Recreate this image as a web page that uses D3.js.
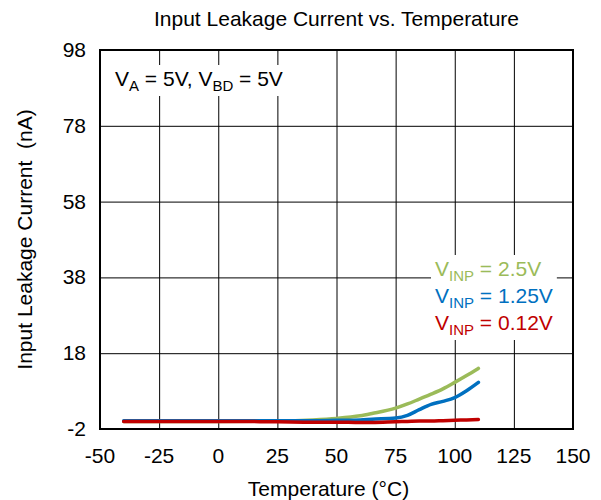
<!DOCTYPE html>
<html>
<head>
<meta charset="utf-8">
<script src="https://cdn.jsdelivr.net/npm/d3@7"></script>
<style>
  body { margin: 0; background: #fff; }
  text { font-family: Arial, "Liberation Sans", sans-serif; fill: #000; }
</style>
</head>
<body>
<svg id="chart" width="601" height="500"></svg>
<script>
// data
const xTicks = [-50, -25, 0, 25, 50, 75, 100, 125, 150];
const yTicks = [-2, 18, 38, 58, 78, 98];

const temp = [-40, -25, 0, 25, 40, 50, 60, 65, 75, 80, 85, 90, 95, 100, 105, 110];
const vinp250 = [0, 0, 0, 0.1, 0.4, 0.8, 1.5, 2.1, 3.5, 4.6, 5.9, 7.2, 8.6, 10.3, 12.1, 14.0];
const vinp125 = [0.2, 0.2, 0.2, 0.2, 0.2, 0.3, 0.4, 0.6, 0.9, 1.6, 3.1, 4.5, 5.3, 6.3, 8.1, 10.3];
const vinp012 = [0, 0, 0, -0.1, -0.2, -0.2, -0.3, -0.3, -0.1, 0, 0.1, 0.1, 0.2, 0.3, 0.4, 0.5];

const series = [
  {name: "2.5V", values: vinp250, col: "#9bbb59"},
  {name: "1.25V", values: vinp125, col: "#0070c0"},
  {name: "0.12V", values: vinp012, col: "#c00000"}
];

const FS = 21, SUB = 15;

////////////////////////////////////////////
// SCALES
////////////////////////////////////////////

let svg = d3.select("#chart");
let m = {left: 100, right: 573, top: 50, bottom: 429};

let x = d3.scaleLinear().domain([-50, 150]).range([m.left, m.right]);
let y = d3.scaleLinear().domain([-2, 98]).range([m.bottom, m.top]);

// grid
svg.append("g")
  .attr("transform", `translate(0,${m.bottom})`)
  .call(d3.axisBottom(x).tickValues(xTicks).tickSize(-(m.bottom - m.top)).tickFormat(""))
  .call(g => g.select(".domain").remove())
  .selectAll("line").attr("stroke", "#000").attr("stroke-width", 1);

svg.append("g")
  .attr("transform", `translate(${m.left},0)`)
  .call(d3.axisLeft(y).tickValues(yTicks).tickSize(-(m.right - m.left)).tickFormat(""))
  .call(g => g.select(".domain").remove())
  .selectAll("line").attr("stroke", "#000").attr("stroke-width", 1);

// tick labels
svg.append("g").selectAll("text")
  .data(xTicks).join("text")
  .attr("x", d => x(d)).attr("y", 463)
  .attr("text-anchor", "middle").attr("font-size", FS)
  .text(d => d);

svg.append("g").selectAll("text")
  .data(yTicks).join("text")
  .attr("x", 86).attr("y", d => y(d) + 7)
  .attr("text-anchor", "end").attr("font-size", FS)
  .text(d => d);

////////////////////////////////////////////
// LINES
////////////////////////////////////////////

let line = d3.line()
  .x((d, i) => x(temp[i]))
  .y(d => y(d))
  .curve(d3.curveMonotoneX);

// red ends up on top, as in the original
svg.append("g").selectAll("path")
  .data(series).join("path")
  .attr("fill", "none")
  .attr("stroke", d => d.col)
  .attr("stroke-width", 3.5)
  .attr("stroke-linecap", "round")
  .attr("d", d => line(d.values));

// frame
svg.append("rect")
  .attr("x", m.left).attr("y", m.top)
  .attr("width", m.right - m.left).attr("height", m.bottom - m.top)
  .attr("fill", "none").attr("stroke", "#000").attr("stroke-width", 2);

////////////////////////////////////////////
// TEXT
////////////////////////////////////////////

svg.append("text")
  .attr("x", (m.left + m.right) / 2).attr("y", 26)
  .attr("text-anchor", "middle").attr("font-size", FS)
  .text("Input Leakage Current vs. Temperature");

svg.append("text")
  .attr("x", (m.left + m.right) / 2 - 8).attr("y", 496)
  .attr("text-anchor", "middle").attr("font-size", FS)
  .text("Temperature (°C)");

svg.append("text")
  .attr("transform", `translate(32,${(m.top + m.bottom) / 2}) rotate(-90)`)
  .attr("text-anchor", "middle").attr("font-size", FS)
  .attr("xml:space", "preserve")
  .text("Input Leakage Current  (nA)");

// white boxes behind the labels, like the text boxes in the original
function boxed(g, pad){
  let b = g.node().getBBox();
  g.insert("rect", ":first-child")
    .attr("x", b.x - pad).attr("y", b.y - 2)
    .attr("width", b.width + 2 * pad).attr("height", b.height + 4)
    .attr("fill", "#fff");
}

let ng = svg.append("g");
let note = ng.append("text")
  .attr("x", 115).attr("y", 86).attr("font-size", FS);
note.append("tspan").text("V");
note.append("tspan").attr("font-size", SUB).attr("dy", 5).text("A");
note.append("tspan").attr("dy", -5).text(" = 5V, V");
note.append("tspan").attr("font-size", SUB).attr("dy", 5).text("BD");
note.append("tspan").attr("dy", -5).text(" = 5V");
boxed(ng, 5);

let lg = svg.append("g");
series.forEach((s, i) => {
  let t = lg.append("text")
    .attr("x", 435).attr("y", 276 + i * 27).attr("font-size", FS);
  t.append("tspan").attr("fill", s.col).text("V");
  t.append("tspan").attr("fill", s.col).attr("font-size", SUB).attr("dy", 5).text("INP");
  t.append("tspan").attr("fill", s.col).attr("dy", -5).text(" = " + s.name);
});
boxed(lg, 4);
</script>
</body>
</html>
